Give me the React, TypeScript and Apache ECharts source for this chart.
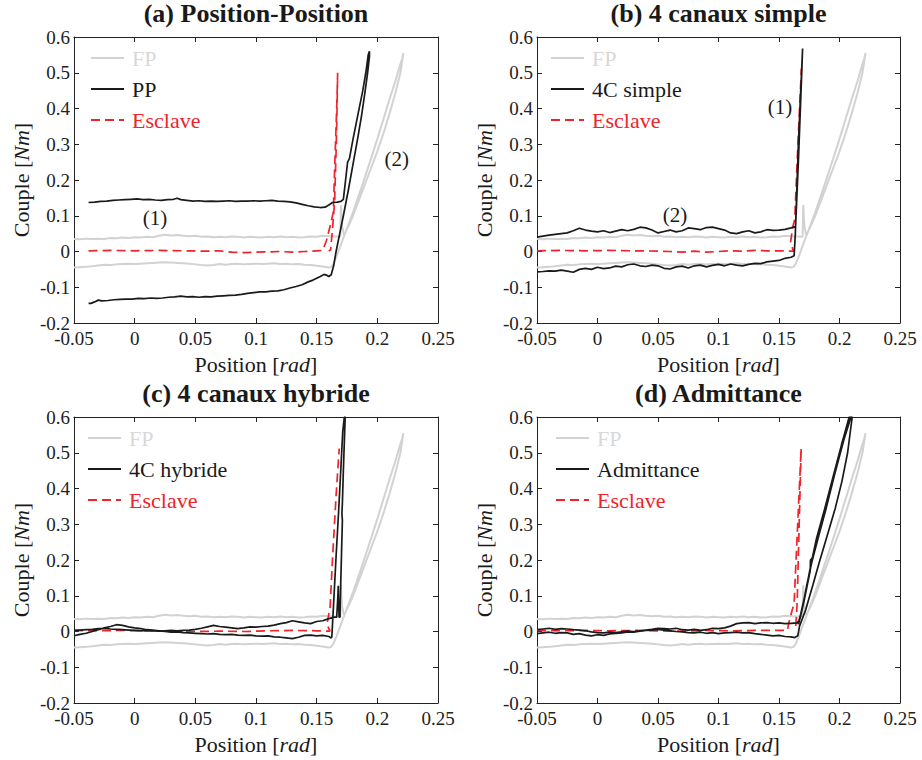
import React, { useEffect, useRef } from "react";
import * as echarts from "echarts";

const FONT = '"Liberation Serif", "Times New Roman", Times, serif';
const INK = "#1a1a1a";
const GRAY = "#d2d2d2";
const RED = "#f0222a";

const panelTitles = ["(a) Position-Position", "(b) 4 canaux simple", "(c) 4 canaux hybride", "(d) Admittance"];
const controllerNames = ["PP", "4C simple", "4C hybride", "Admittance"];

// FP (free-space / reference) hysteresis loop, identical in the four panels
const fpData: number[][] = [
  [-0.05, 0.035], [-0.045, 0.034], [-0.04, 0.036], [-0.035, 0.035], [-0.03, 0.036], [-0.025, 0.035], [-0.02, 0.038],
  [-0.015, 0.037], [-0.01, 0.039], [-0.005, 0.038], [0, 0.04], [0.005, 0.039], [0.01, 0.041], [0.015, 0.04],
  [0.02, 0.044], [0.025, 0.047], [0.03, 0.045], [0.035, 0.046], [0.04, 0.044], [0.045, 0.043], [0.05, 0.044],
  [0.055, 0.041], [0.06, 0.042], [0.065, 0.04], [0.07, 0.041], [0.075, 0.04], [0.08, 0.042], [0.085, 0.041],
  [0.09, 0.039], [0.095, 0.041], [0.1, 0.04], [0.105, 0.039], [0.11, 0.041], [0.115, 0.04], [0.12, 0.042],
  [0.125, 0.04], [0.13, 0.041], [0.135, 0.039], [0.14, 0.04], [0.145, 0.042], [0.15, 0.041], [0.155, 0.044],
  [0.16, 0.043], [0.165, 0.042], [0.1695, 0.041], [0.17, 0.13], [0.171, 0.07], [0.1725, 0.045],
  [0.176, 0.07], [0.18, 0.1], [0.185, 0.145], [0.19, 0.19], [0.195, 0.235], [0.2, 0.28], [0.205, 0.33],
  [0.21, 0.385], [0.215, 0.445], [0.219, 0.5], [0.2215, 0.555],
  [0.2205, 0.54], [0.2186, 0.52], [0.215, 0.478], [0.21, 0.425], [0.205, 0.37], [0.2, 0.315], [0.195, 0.262],
  [0.19, 0.21], [0.185, 0.16], [0.18, 0.11], [0.175, 0.065], [0.17, 0.02], [0.1665, -0.012], [0.1637, -0.035],
  [0.162, -0.043], [0.16, -0.045], [0.155, -0.042], [0.15, -0.04], [0.145, -0.038], [0.14, -0.037], [0.135, -0.035],
  [0.13, -0.036], [0.125, -0.034], [0.12, -0.035], [0.115, -0.033], [0.11, -0.034], [0.105, -0.035], [0.1, -0.034],
  [0.095, -0.035], [0.09, -0.036], [0.085, -0.034], [0.08, -0.035], [0.075, -0.037], [0.07, -0.035], [0.065, -0.038],
  [0.06, -0.039], [0.055, -0.038], [0.05, -0.036], [0.045, -0.034], [0.04, -0.033], [0.035, -0.032], [0.03, -0.031],
  [0.025, -0.03], [0.02, -0.031], [0.015, -0.032], [0.01, -0.033], [0.005, -0.034], [0, -0.035], [-0.005, -0.034],
  [-0.01, -0.035], [-0.015, -0.036], [-0.02, -0.038], [-0.025, -0.037], [-0.03, -0.039], [-0.035, -0.041],
  [-0.04, -0.043], [-0.045, -0.044], [-0.05, -0.045],
];

// (a) Position-Position
const ppData: number[][] = [
  [-0.038, 0.137], [-0.033, 0.138], [-0.028, 0.14], [-0.023, 0.141], [-0.018, 0.143], [-0.013, 0.144], [-0.008, 0.145],
  [-0.003, 0.146], [0.002, 0.147], [0.007, 0.145], [0.012, 0.146], [0.017, 0.144], [0.022, 0.143], [0.027, 0.145],
  [0.032, 0.146], [0.035, 0.149], [0.038, 0.145], [0.043, 0.143], [0.048, 0.141], [0.053, 0.142], [0.058, 0.14],
  [0.063, 0.141], [0.068, 0.14], [0.073, 0.141], [0.078, 0.142], [0.083, 0.14], [0.088, 0.141], [0.093, 0.141],
  [0.098, 0.142], [0.103, 0.141], [0.108, 0.142], [0.113, 0.143], [0.118, 0.141], [0.123, 0.14], [0.128, 0.139],
  [0.133, 0.136], [0.138, 0.132], [0.143, 0.128], [0.148, 0.125], [0.153, 0.123], [0.157, 0.124], [0.16, 0.13],
  [0.163, 0.137], [0.167, 0.138], [0.17, 0.14], [0.172, 0.146],
  [0.1735, 0.19], [0.175, 0.235], [0.1755, 0.25], [0.177, 0.26], [0.18, 0.315], [0.184, 0.383], [0.188, 0.45],
  [0.1905, 0.5], [0.1925, 0.55], [0.1935, 0.56],
  [0.1935, 0.545], [0.192, 0.5], [0.19, 0.45], [0.187, 0.38], [0.184, 0.32], [0.18, 0.245], [0.176, 0.17],
  [0.172, 0.1], [0.169, 0.05], [0.166, 0.0], [0.164, -0.04], [0.162, -0.065],
  [0.16, -0.07], [0.158, -0.066], [0.156, -0.064], [0.153, -0.07], [0.15, -0.075], [0.147, -0.08], [0.143, -0.085],
  [0.138, -0.093], [0.133, -0.098], [0.128, -0.102], [0.123, -0.107], [0.118, -0.11], [0.113, -0.111],
  [0.108, -0.113], [0.103, -0.113], [0.098, -0.115], [0.093, -0.117], [0.088, -0.12], [0.083, -0.122],
  [0.078, -0.123], [0.073, -0.124], [0.068, -0.125], [0.063, -0.127], [0.058, -0.126], [0.053, -0.128],
  [0.048, -0.126], [0.043, -0.127], [0.038, -0.125], [0.033, -0.127], [0.028, -0.128], [0.023, -0.13],
  [0.018, -0.131], [0.013, -0.13], [0.008, -0.132], [0.003, -0.131], [-0.002, -0.133], [-0.007, -0.133],
  [-0.012, -0.134], [-0.017, -0.135], [-0.022, -0.137], [-0.027, -0.138], [-0.03, -0.136], [-0.033, -0.141],
  [-0.036, -0.145], [-0.038, -0.145],
];
const ppEsclave: number[][] = [
  [-0.038, 0.002], [-0.02, 0.003], [0, 0.002], [0.02, 0.003], [0.04, 0.002], [0.06, 0.001], [0.07, 0.002],
  [0.08, -0.002], [0.09, -0.003], [0.1, -0.002], [0.12, 0.0], [0.13, -0.002], [0.14, 0.0], [0.15, 0.002],
  [0.155, 0.003], [0.158, 0.03], [0.161, 0.07], [0.1637, 0.11], [0.165, 0.25], [0.1665, 0.4], [0.1673, 0.5],
  [0.1668, 0.4], [0.166, 0.28], [0.1648, 0.14], [0.163, 0.06], [0.1615, 0.005], [0.16, 0.001],
];

// (b) 4 canaux simple
const c4sData: number[][] = [
  [-0.05, -0.057], [-0.045, -0.056], [-0.04, -0.054], [-0.035, -0.055], [-0.03, -0.052], [-0.025, -0.055],
  [-0.02, -0.058], [-0.015, -0.05], [-0.01, -0.047], [-0.005, -0.05], [0, -0.044], [0.005, -0.048], [0.01, -0.046],
  [0.015, -0.041], [0.02, -0.043], [0.025, -0.037], [0.03, -0.035], [0.035, -0.04], [0.04, -0.042], [0.045, -0.038],
  [0.05, -0.04], [0.055, -0.047], [0.06, -0.049], [0.065, -0.043], [0.07, -0.041], [0.075, -0.046], [0.08, -0.04],
  [0.085, -0.038], [0.09, -0.043], [0.095, -0.039], [0.1, -0.036], [0.105, -0.04], [0.11, -0.035], [0.115, -0.038],
  [0.12, -0.04], [0.125, -0.036], [0.13, -0.033], [0.135, -0.034], [0.14, -0.029], [0.145, -0.027], [0.15, -0.025],
  [0.155, -0.019], [0.16, -0.016], [0.1625, -0.012],
  [0.1635, 0.05], [0.166, 0.3], [0.1695, 0.568], [0.1688, 0.5], [0.166, 0.25], [0.1637, 0.07],
  [0.16, 0.066], [0.155, 0.062], [0.15, 0.06], [0.145, 0.059], [0.14, 0.061], [0.135, 0.055], [0.13, 0.052],
  [0.125, 0.058], [0.12, 0.055], [0.115, 0.05], [0.11, 0.052], [0.105, 0.06], [0.1, 0.064], [0.095, 0.068],
  [0.09, 0.067], [0.085, 0.061], [0.08, 0.064], [0.075, 0.066], [0.07, 0.058], [0.065, 0.055], [0.06, 0.06],
  [0.055, 0.056], [0.05, 0.052], [0.045, 0.06], [0.04, 0.066], [0.035, 0.068], [0.03, 0.062], [0.025, 0.058],
  [0.02, 0.061], [0.015, 0.057], [0.01, 0.053], [0.005, 0.058], [0, 0.055], [-0.005, 0.057], [-0.01, 0.06],
  [-0.015, 0.065], [-0.02, 0.058], [-0.025, 0.052], [-0.03, 0.05], [-0.035, 0.048], [-0.04, 0.046],
  [-0.045, 0.043], [-0.05, 0.04],
];
const c4sEsclave: number[][] = [
  [-0.05, 0.002], [-0.03, 0.003], [-0.01, 0.002], [0.01, 0.003], [0.03, 0.002], [0.05, 0.001], [0.06, 0.0],
  [0.07, -0.002], [0.08, 0.001], [0.09, -0.002], [0.1, 0.0], [0.11, 0.002], [0.12, 0.001], [0.13, 0.003],
  [0.14, 0.002], [0.15, 0.002], [0.162, 0.001], [0.1595, 0.025], [0.1615, 0.07], [0.163, 0.09], [0.165, 0.25],
  [0.1685, 0.512],
];

// (c) 4 canaux hybride
const c4hData: number[][] = [
  [-0.05, -0.012], [-0.045, -0.008], [-0.04, -0.005], [-0.035, 0.0], [-0.03, 0.005], [-0.025, 0.01], [-0.02, 0.014],
  [-0.015, 0.019], [-0.01, 0.017], [-0.005, 0.013], [0, 0.01], [0.005, 0.008], [0.01, 0.005], [0.015, 0.004],
  [0.02, 0.002], [0.025, 0.0], [0.03, -0.002], [0.035, -0.001], [0.04, -0.003], [0.045, -0.004], [0.05, -0.005],
  [0.055, -0.006], [0.06, -0.007], [0.065, -0.006], [0.07, -0.008], [0.075, -0.009], [0.08, -0.008],
  [0.085, -0.01], [0.09, -0.011], [0.095, -0.01], [0.1, -0.012], [0.105, -0.013], [0.11, -0.012], [0.115, -0.015],
  [0.12, -0.016], [0.125, -0.018], [0.13, -0.02], [0.135, -0.016], [0.14, -0.011], [0.145, -0.01], [0.15, -0.012],
  [0.155, -0.011], [0.16, -0.014], [0.162, -0.018],
  [0.1625, -0.015], [0.164, 0.08], [0.166, 0.21], [0.168, 0.33], [0.17, 0.46], [0.1715, 0.56], [0.1728, 0.6],
  [0.1735, 0.6], [0.173, 0.55], [0.172, 0.45], [0.1712, 0.36], [0.1708, 0.33], [0.1712, 0.31], [0.1705, 0.22],
  [0.1698, 0.13], [0.1693, 0.06], [0.1693, 0.041], [0.1685, 0.04], [0.168, 0.09], [0.1678, 0.128],
  [0.1675, 0.1], [0.1665, 0.04],
  [0.165, 0.04], [0.16, 0.036], [0.155, 0.03], [0.15, 0.028], [0.145, 0.022], [0.14, 0.024], [0.135, 0.027],
  [0.13, 0.03], [0.125, 0.025], [0.12, 0.022], [0.115, 0.018], [0.11, 0.015], [0.105, 0.014], [0.1, 0.012],
  [0.095, 0.013], [0.09, 0.01], [0.085, 0.008], [0.08, 0.01], [0.075, 0.012], [0.07, 0.014], [0.065, 0.017],
  [0.06, 0.013], [0.055, 0.009], [0.05, 0.006], [0.045, 0.004], [0.04, 0.003], [0.035, 0.002], [0.03, 0.003],
  [0.025, 0.002], [0.02, 0.001], [0.015, 0.002], [0.01, 0.003], [0.005, 0.002], [0, 0.003], [-0.005, 0.004],
  [-0.01, 0.005], [-0.015, 0.006], [-0.02, 0.007], [-0.025, 0.009], [-0.03, 0.008], [-0.035, 0.006],
  [-0.04, 0.005], [-0.045, 0.004], [-0.05, 0.003],
];
const c4hEsclave: number[][] = [
  [-0.05, 0.003], [-0.03, 0.002], [-0.01, 0.003], [0.01, 0.002], [0.03, 0.001], [0.05, 0.0], [0.07, 0.001],
  [0.09, 0.0], [0.11, 0.002], [0.13, 0.003], [0.15, 0.002], [0.161, 0.001], [0.1585, 0.02], [0.1611, 0.069],
  [0.163, 0.2], [0.166, 0.38], [0.1686, 0.512],
];

// (d) Admittance
const admData: number[][] = [
  [-0.05, -0.006], [-0.045, -0.004], [-0.04, -0.002], [-0.035, -0.005], [-0.03, -0.003], [-0.025, -0.004],
  [-0.02, -0.008], [-0.015, -0.006], [-0.01, -0.01], [-0.005, -0.012], [0, -0.009], [0.005, -0.011], [0.01, -0.007],
  [0.015, -0.005], [0.02, -0.004], [0.025, -0.001], [0.03, -0.002], [0.035, 0.001], [0.04, 0.003], [0.045, 0.004],
  [0.05, 0.006], [0.055, 0.004], [0.06, 0.002], [0.065, 0.0], [0.07, -0.001], [0.075, -0.003], [0.08, -0.004],
  [0.085, -0.002], [0.09, -0.005], [0.095, -0.003], [0.1, -0.006], [0.105, -0.004], [0.11, -0.003],
  [0.115, -0.002], [0.12, -0.004], [0.125, -0.003], [0.13, -0.006], [0.135, -0.008], [0.14, -0.01],
  [0.145, -0.012], [0.15, -0.011], [0.155, -0.014], [0.16, -0.015], [0.163, -0.017], [0.1655, -0.012],
  [0.167, 0.015], [0.172, 0.06], [0.178, 0.13], [0.183, 0.19], [0.19, 0.27], [0.1965, 0.345], [0.202, 0.42],
  [0.2067, 0.5], [0.2105, 0.6],
  [0.2088, 0.6], [0.2025, 0.526], [0.195, 0.43], [0.1882, 0.34], [0.182, 0.265], [0.1775, 0.205], [0.176, 0.2],
  [0.1758, 0.17], [0.174, 0.14], [0.171, 0.09], [0.168, 0.045], [0.166, 0.02],
  [0.169, 0.06], [0.173, 0.13], [0.1772, 0.195], [0.183, 0.27], [0.189, 0.345], [0.196, 0.44], [0.2035, 0.535],
  [0.2095, 0.6],
  [0.208, 0.6], [0.2015, 0.52], [0.1945, 0.43], [0.1875, 0.34], [0.181, 0.26], [0.1765, 0.19], [0.172, 0.11],
  [0.168, 0.05], [0.1665, 0.03], [0.165, 0.024],
  [0.16, 0.023], [0.155, 0.022], [0.15, 0.024], [0.145, 0.023], [0.14, 0.025], [0.135, 0.024], [0.13, 0.022],
  [0.125, 0.025], [0.12, 0.024], [0.115, 0.022], [0.11, 0.015], [0.105, 0.01], [0.1, 0.008], [0.095, 0.009],
  [0.09, 0.005], [0.085, 0.003], [0.08, 0.006], [0.075, 0.004], [0.07, 0.005], [0.065, 0.009], [0.06, 0.007],
  [0.055, 0.008], [0.05, 0.009], [0.045, 0.006], [0.04, 0.004], [0.035, 0.002], [0.03, 0.0], [0.025, 0.001],
  [0.02, -0.001], [0.015, -0.003], [0.01, -0.002], [0.005, -0.004], [0, -0.003], [-0.005, -0.001],
  [-0.01, 0.002], [-0.015, 0.004], [-0.02, 0.005], [-0.025, 0.007], [-0.03, 0.008], [-0.035, 0.006],
  [-0.04, 0.009], [-0.045, 0.007], [-0.05, 0.005],
];
const admEsclave: number[][] = [
  [-0.05, 0.003], [-0.03, 0.002], [-0.01, 0.003], [0.01, 0.002], [0.03, 0.003], [0.05, 0.002], [0.07, 0.001],
  [0.09, 0.003], [0.11, 0.002], [0.13, 0.003], [0.157, 0.003], [0.158, 0.023], [0.1625, 0.08], [0.1683, 0.512],
  [0.165, 0.08], [0.164, 0.02], [0.163, 0.003],
];

const controllerData = [ppData, c4sData, c4hData, admData];
const esclaveData = [ppEsclave, c4sEsclave, c4hEsclave, admEsclave];

// annotations "(1)" / "(2)" placed in data coordinates
const annotationLabels = [["(1)", "(2)"], ["(1)", "(2)"], [], []];
const annotationPoints = [
  [[0.0167, 0.094], [0.216, 0.26]],
  [[0.1508, 0.405], [0.064, 0.102]],
  [],
  [],
];

const fmt = (v: number) => String(parseFloat(v.toFixed(2)));

export default function App() {
  const ref = useRef<HTMLDivElement>(null);

  useEffect(() => {
    document.body.style.margin = "0";
    if (!ref.current) return;
    const chart = echarts.init(ref.current, undefined, { renderer: "svg" });

    const grids = [
      { left: 74, top: 37, width: 364, height: 286 },
      { left: 537, top: 37, width: 363, height: 286 },
      { left: 74, top: 417, width: 364, height: 286 },
      { left: 537, top: 417, width: 363, height: 286 },
    ];
    const legendOffsets = [11, 8, 8, 13];

    const axisLineStyle = { color: "#222", width: 1 };
    const xAxes: any[] = [];
    const yAxes: any[] = [];
    const series: any[] = [];

    grids.forEach((g, i) => {
      xAxes.push({
        type: "value", gridIndex: i, min: -0.05, max: 0.25, interval: 0.05, position: "bottom",
        name: "Position [{it|rad}]", nameLocation: "middle", nameGap: 30, nameMoveOverlap: false,
        nameTextStyle: {
          fontFamily: FONT, fontSize: 22, color: INK,
          rich: { it: { fontFamily: FONT, fontSize: 22, color: INK, fontStyle: "italic" } },
        },
        axisLine: { show: true, onZero: false, lineStyle: axisLineStyle },
        axisTick: { show: true, inside: true, length: 5, lineStyle: axisLineStyle },
        axisLabel: { fontFamily: FONT, fontSize: 19, color: "#222", margin: 6, formatter: fmt },
        splitLine: { show: false },
      });
      xAxes.push({
        type: "value", gridIndex: i, min: -0.05, max: 0.25, interval: 0.05, position: "top",
        axisLine: { show: true, onZero: false, lineStyle: axisLineStyle },
        axisTick: { show: true, inside: true, length: 5, lineStyle: axisLineStyle },
        axisLabel: { show: false },
        splitLine: { show: false },
      });
      yAxes.push({
        type: "value", gridIndex: i, min: -0.2, max: 0.6, interval: 0.1, position: "left",
        name: "Couple [{it|Nm}]", nameLocation: "middle", nameGap: 42, nameMoveOverlap: false,
        nameTextStyle: {
          fontFamily: FONT, fontSize: 22, color: INK,
          rich: { it: { fontFamily: FONT, fontSize: 22, color: INK, fontStyle: "italic" } },
        },
        axisLine: { show: true, onZero: false, lineStyle: axisLineStyle },
        axisTick: { show: true, inside: true, length: 5, lineStyle: axisLineStyle },
        axisLabel: { fontFamily: FONT, fontSize: 19, color: "#222", margin: 4, formatter: fmt },
        splitLine: { show: false },
      });
      yAxes.push({
        type: "value", gridIndex: i, min: -0.2, max: 0.6, interval: 0.1, position: "right",
        axisLine: { show: true, onZero: false, lineStyle: axisLineStyle },
        axisTick: { show: true, inside: true, length: 5, lineStyle: axisLineStyle },
        axisLabel: { show: false },
        splitLine: { show: false },
      });

      const base = { type: "line", xAxisIndex: 2 * i, yAxisIndex: 2 * i, showSymbol: false, symbol: "none", silent: true };
      series.push({
        ...base, name: "FP", data: fpData,
        lineStyle: { color: GRAY, width: 2 }, itemStyle: { color: GRAY },
      });
      series.push({
        ...base, name: "Esclave", data: esclaveData[i],
        lineStyle: { color: RED, width: 1.7, type: [9, 5] }, itemStyle: { color: RED },
      });
      series.push({
        ...base, name: controllerNames[i], data: controllerData[i],
        lineStyle: { color: INK, width: 1.7 }, itemStyle: { color: INK },
      });
      if (annotationPoints[i].length) {
        series.push({
          type: "scatter", name: "annotations", xAxisIndex: 2 * i, yAxisIndex: 2 * i, silent: true,
          symbolSize: 0,
          itemStyle: { opacity: 1 },
          data: annotationPoints[i].map((p, k) => ({ name: annotationLabels[i][k], value: p })),
          label: {
            show: true, position: "inside", formatter: "{b}", opacity: 1,
            fontFamily: FONT, fontSize: 21, color: INK,
          },
        });
      }
    });

    const option: any = {
      animation: false,
      backgroundColor: "#ffffff",
      textStyle: { fontFamily: FONT },
      title: grids.map((g, i) => ({
        text: panelTitles[i],
        left: g.left + g.width / 2,
        top: g.top - 37,
        textAlign: "center",
        padding: 0,
        textStyle: { fontFamily: FONT, fontWeight: "bold", fontSize: 26, color: INK },
      })),
      legend: grids.map((g, i) => ({
        orient: "vertical",
        left: g.left + legendOffsets[i] + 5,
        top: g.top + 10,
        padding: 0,
        itemWidth: 33,
        itemHeight: 14,
        itemGap: 9,
        selectedMode: false,
        itemStyle: { opacity: 0 },
        textStyle: { fontFamily: FONT, fontSize: 22, color: INK, padding: [0, 0, 0, 3] },
        data: [
          { name: "FP", textStyle: { color: "#d8d8d8" } },
          { name: controllerNames[i] },
          { name: "Esclave", textStyle: { color: RED } },
        ],
      })),
      grid: grids.map((g) => ({ ...g, containLabel: false, outerBoundsMode: "none" })),
      xAxis: xAxes,
      yAxis: yAxes,
      series,
    };

    chart.setOption(option);
    return () => chart.dispose();
  }, []);

  return <div ref={ref} style={{ width: 922, height: 760 }} />;
}
